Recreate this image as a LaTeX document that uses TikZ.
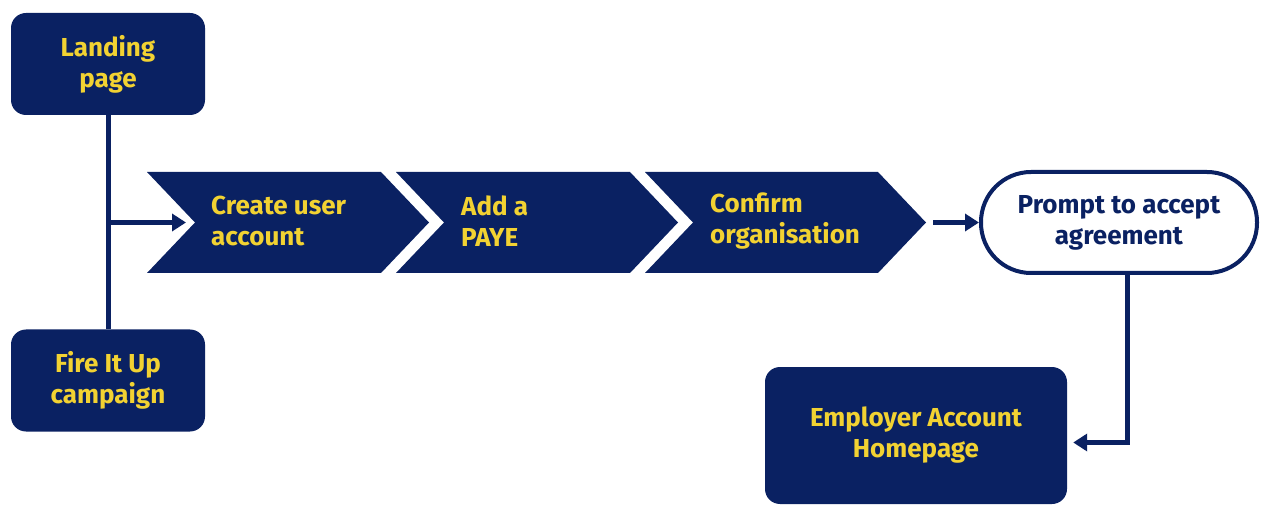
\documentclass[tikz,border=0pt]{standalone}
\usepackage{fontspec}
\setmainfont{Fira Sans}
\usetikzlibrary{arrows.meta}
\definecolor{navy}{RGB}{10,33,98}
\definecolor{gold}{RGB}{242,210,50}
\begin{document}
\begin{tikzpicture}[x=1pt,y=-1pt,
  txt/.style={font=\fontsize{26}{31}\selectfont\bfseries},
  box/.style={txt, fill=navy, rounded corners=15pt, text=gold, align=center, inner sep=0pt},
  link/.style={draw=navy, line width=5pt},
  arr/.style={link, -{Triangle[length=14pt,width=17pt]}},
  lbl/.style={txt, text=gold, align=left, anchor=west, inner sep=0pt},
  chev/.style={fill=navy}
]
\useasboundingbox (0,0) rectangle (1262,505);

% boxes
\node[box, minimum width=194pt, minimum height=102pt] (landing) at (108,64) {Landing\\page};
\node[box, minimum width=194pt, minimum height=102pt] (fire) at (108,380.5) {Fire It Up\\campaign};
\node[box, minimum width=302pt, minimum height=137pt] (home) at (916,435.5) {Employer Account\\Homepage};

% chevrons
\fill[chev] (147,172) -- (381,172) -- (429,222.5) -- (381,273) -- (147,273) -- (195,222.5) -- cycle;
\fill[chev] (396,172) -- (630,172) -- (678,222.5) -- (630,273) -- (396,273) -- (444,222.5) -- cycle;
\fill[chev] (645,172) -- (878,172) -- (926,222.5) -- (878,273) -- (645,273) -- (693,222.5) -- cycle;
\coordinate (c1notch) at (195,222.5);
\coordinate (c3tip) at (926,222.5);

\node[lbl] (t1) at (211,221) {Create user\\account};
\node[lbl] (t2) at (461,221) {Add a\\PAYE};
\node[lbl] (t3) at (710,221) {Confirm\\organisation};

% stadium
\node[txt, draw=navy, line width=4pt, fill=white, rounded corners=50pt, minimum width=276pt, minimum height=101pt, text=navy, align=center, inner sep=0pt] (prompt) at (1119,222.5) {Prompt to accept\\agreement};

% connectors
\draw[link] (landing.south) -- (fire.north);
\draw[arr, shorten >=9pt] (landing.south |- c1notch) -- (c1notch);
\draw[arr] ([xshift=7pt]c3tip) -- (prompt.west);
\draw[arr, shorten >=6pt] ([xshift=8pt]prompt.south) |- ([yshift=-7pt]home.east);
\end{tikzpicture}
\end{document}
